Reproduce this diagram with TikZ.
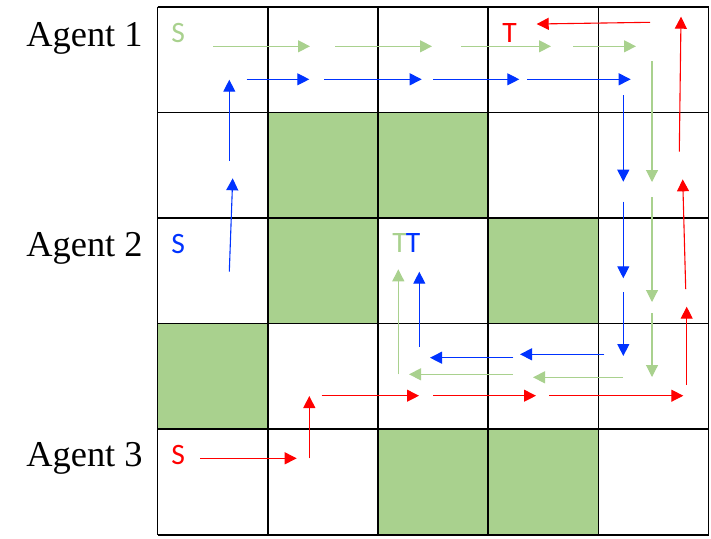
\documentclass[tikz,border=0pt]{standalone}
\usepackage{fontspec}
\setmainfont{Liberation Serif}
\newfontfamily\markfont{Carlito}
\usetikzlibrary{arrows.meta}
\definecolor{cellgreen}{RGB}{169,209,142}
\definecolor{pathblue}{RGB}{0,51,255}
\definecolor{pathred}{RGB}{255,0,0}

\begin{document}
\begin{tikzpicture}[x=0.5pt,y=-0.5pt,>={Triangle[length=6pt,width=6pt]},line join=miter,
  gridline/.style={line width=0.8pt,black},
  gpath/.style={->,line width=0.55pt,cellgreen},
  bpath/.style={->,line width=0.55pt,pathblue},
  rpath/.style={->,line width=0.55pt,pathred},
  agentlabel/.style={anchor=base west,inner sep=0pt,font=\fontsize{18.2}{20}\selectfont},
  endmark/.style={anchor=base west,inner sep=0pt,font=\markfont\fontsize{14.8}{16}\selectfont}]
\useasboundingbox (0,0) rectangle (711,538);

% blocked cells
\foreach \c/\r in {2/2,3/2,2/3,4/3,1/4,3/5,4/5}
  \fill[cellgreen] ({157.5+110.2*(\c-1)},{6.7+105.6*(\r-1)}) rectangle ++(110.2,105.6);

% grid
\foreach \i in {0,...,5} {
  \draw[gridline] ({157.5+110.2*\i},6.7) -- ({157.5+110.2*\i},534.7);
  \draw[gridline] (157.5,{6.7+105.6*\i}) -- (708.5,{6.7+105.6*\i});
}

% agent names
\node[agentlabel] (agent1) at (26,46) {Agent 1};
\node[agentlabel] (agent2) at (26,256) {Agent 2};
\node[agentlabel] (agent3) at (26,466) {Agent 3};

% start and target marks
\node[endmark,text=cellgreen] (s1) at (171,42.3) {S};
\node[endmark,text=pathred] (t3) at (502,42.3) {T};
\node[endmark,text=pathblue] (s2) at (171,253.3) {S};
\node[endmark,text=cellgreen] (t1) at (392,252.7) {T};
\node[endmark,text=pathblue] (t2) at (405.5,252.7) {T};
\node[endmark,text=pathred] (s3) at (171,464) {S};

% agent 1
\draw[gpath] (213,46.3) -- (310,46.3);
\draw[gpath] (335,46.3) -- (432,46.3);
\draw[gpath] (461,46.3) -- (551,46.3);
\draw[gpath] (573,46.3) -- (636,46.3);
\draw[gpath] (652,61) -- (652,182);
\draw[gpath] (652,197) -- (652,302);
\draw[gpath] (652,313) -- (652,377);
\draw[gpath] (623,377.3) -- (533,377.3);
\draw[gpath] (513,374.3) -- (409,374.3);
\draw[gpath] (398.3,374.3) -- (398.3,269.3);

% agent 2
\draw[bpath] (229.3,271.7) -- (232.7,178.3);
\draw[bpath] (229.3,160.7) -- (229.3,79.7);
\draw[bpath] (246.7,79.3) -- (309.3,79.3);
\draw[bpath] (324.3,79.3) -- (421.7,79.3);
\draw[bpath] (433.3,79.3) -- (519.3,79.3);
\draw[bpath] (527.3,79.3) -- (630.7,79.3);
\draw[bpath] (623.3,95.3) -- (623.3,181.7);
\draw[bpath] (623.3,201.7) -- (623.3,278.3);
\draw[bpath] (623.3,292.3) -- (623.3,356);
\draw[bpath] (604.3,354.3) -- (520,354.3);
\draw[bpath] (513.3,357.7) -- (430,357.7);
\draw[bpath] (419.3,346.7) -- (419.3,271.7);

% agent 3
\draw[rpath] (200,458.3) -- (296.7,458.3);
\draw[rpath] (309.3,458.3) -- (309.3,396);
\draw[rpath] (321.7,395.7) -- (419,395.7);
\draw[rpath] (433.3,395.7) -- (536,395.7);
\draw[rpath] (549.3,395.7) -- (683.3,395.7);
\draw[rpath] (686.7,385) -- (686.7,306.7);
\draw[rpath] (685.7,289) -- (682.7,179.3);
\draw[rpath] (679.3,151.7) -- (681,16.7);
\draw[rpath] (650,22.3) -- (536.7,24);
\end{tikzpicture}
\end{document}
